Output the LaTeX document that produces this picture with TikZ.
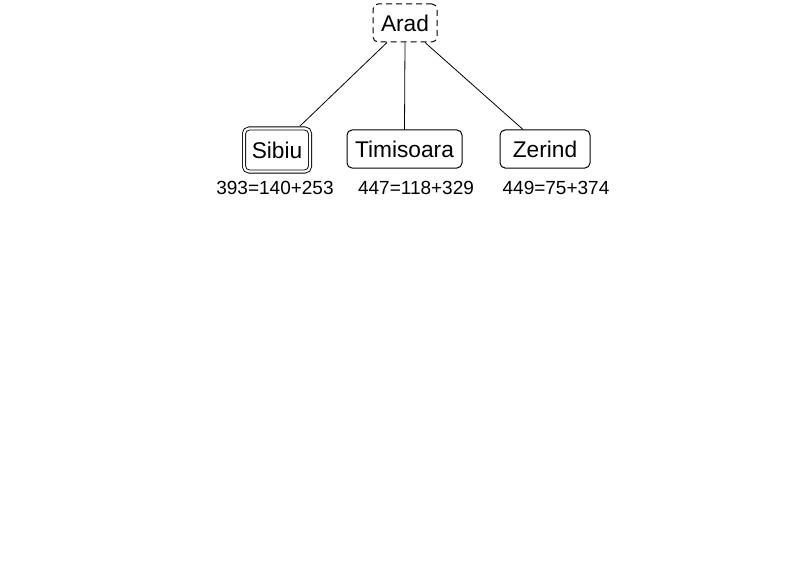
\documentclass[tikz,border=0pt]{standalone}
\usepackage{fontspec}
\setmainfont{Liberation Sans}
\usetikzlibrary{calc}
\begin{document}
\begin{tikzpicture}[x=1pt,y=-1pt,
  city/.style={draw, rounded corners=5pt, line width=1pt, minimum height=38pt, inner sep=0pt, font=\fontsize{22.7}{24}\selectfont},
  cost/.style={inner sep=0pt, font=\fontsize{19}{21}\selectfont},
  edge/.style={line width=0.8pt}]
\useasboundingbox (0,0) rectangle (800,583);
\node[city, dashed, dash pattern=on 6pt off 4pt, minimum width=64pt] (arad) at (405,23) {Arad};
\node[city, double, double distance=2.2pt, line width=0.9pt, minimum width=66pt, minimum height=43pt] (sibiu) at (277,150) {Sibiu};
\node[city, minimum width=115pt] (timisoara) at (404.5,149) {Timisoara};
\node[city, minimum width=90pt] (zerind) at (545,149) {Zerind};
\node[cost] (c1) at (275,188) {393=140+253};
\node[cost] (c2) at (416,188) {447=118+329};
\node[cost] (c3) at (556,188) {449=75+374};
\draw[edge] ($(arad.south)+(-18,0)$) -- ($(sibiu.north)+(23,-2)$);
\draw[edge] (arad.south) -- (timisoara.north);
\draw[edge] ($(arad.south)+(20,0)$) -- ($(zerind.north)+(-22,0)$);
\end{tikzpicture}
\end{document}
